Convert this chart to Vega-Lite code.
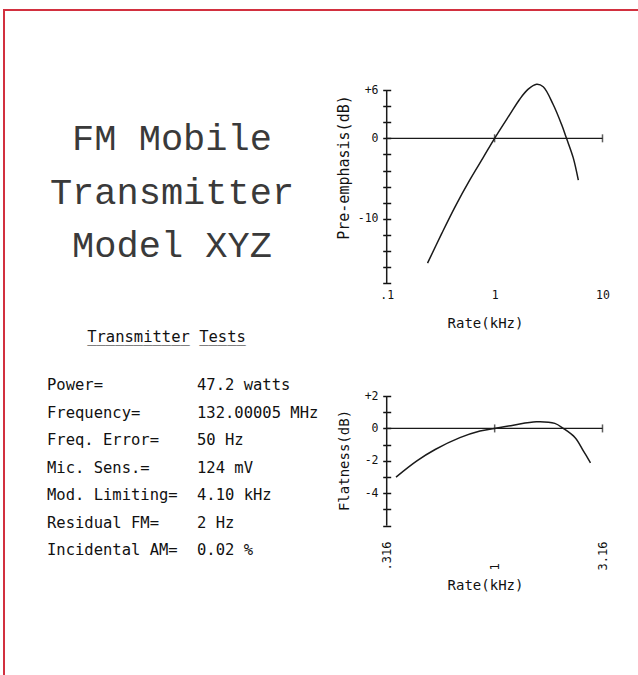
{
  "$schema": "https://vega.github.io/schema/vega-lite/v6.json",
  "width": 634,
  "height": 665,
  "autosize": {"type": "none"},
  "padding": {"left": 4, "top": 10, "right": 0, "bottom": 0},
  "background": "white",
  "config": {
    "view": {"stroke": "#d2303f", "strokeWidth": 2, "strokeDash": [634, 1299, 665]},
    "axis": {
      "domain": false, "grid": false,
      "labelFont": "DejaVu Sans Mono", "titleFont": "DejaVu Sans Mono",
      "labelColor": "#111", "titleColor": "#111", "tickColor": "#111",
      "labelOverlap": false, "labelFlush": false, "labelBound": false,
      "titleFontWeight": "normal"
    }
  },
  "datasets": {
    "preemphasis": [
      {"rate": 0.239, "db": -15.5}, {"rate": 0.324, "db": -11.8}, {"rate": 0.43, "db": -8.5},
      {"rate": 0.593, "db": -5.1}, {"rate": 0.783, "db": -2.4}, {"rate": 1.0, "db": 0},
      {"rate": 1.39, "db": 3.0}, {"rate": 1.71, "db": 4.86}, {"rate": 2.05, "db": 6.1},
      {"rate": 2.45, "db": 6.7}, {"rate": 2.82, "db": 6.4}, {"rate": 3.49, "db": 4.2},
      {"rate": 4.17, "db": 1.74}, {"rate": 4.64, "db": 0}, {"rate": 5.35, "db": -2.4},
      {"rate": 5.97, "db": -5.2}
    ],
    "flatness": [
      {"rate": 0.349, "db": -3.0}, {"rate": 0.436, "db": -2.0}, {"rate": 0.53, "db": -1.3},
      {"rate": 0.69, "db": -0.57}, {"rate": 0.855, "db": -0.16}, {"rate": 1.0, "db": 0},
      {"rate": 1.22, "db": 0.2}, {"rate": 1.56, "db": 0.41}, {"rate": 1.9, "db": 0.31},
      {"rate": 2.08, "db": 0}, {"rate": 2.36, "db": -0.57}, {"rate": 2.58, "db": -1.4},
      {"rate": 2.78, "db": -2.12}
    ],
    "title": [
      {"block": "title", "line": 1, "text": "FM Mobile"},
      {"block": "title", "line": 2, "text": "Transmitter"},
      {"block": "title", "line": 3, "text": "Model XYZ"}
    ],
    "header": [
      {"block": "header", "text": "Transmitter Tests"},
      {"block": "header", "text": "___________ _____"}
    ],
    "tests": [
      {"row": 1, "col": "name", "text": "Power="}, {"row": 1, "col": "reading", "text": "47.2 watts"},
      {"row": 2, "col": "name", "text": "Frequency="}, {"row": 2, "col": "reading", "text": "132.00005 MHz"},
      {"row": 3, "col": "name", "text": "Freq. Error="}, {"row": 3, "col": "reading", "text": "50 Hz"},
      {"row": 4, "col": "name", "text": "Mic. Sens.="}, {"row": 4, "col": "reading", "text": "124 mV"},
      {"row": 5, "col": "name", "text": "Mod. Limiting="}, {"row": 5, "col": "reading", "text": "4.10 kHz"},
      {"row": 6, "col": "name", "text": "Residual FM="}, {"row": 6, "col": "reading", "text": "2 Hz"},
      {"row": 7, "col": "name", "text": "Incidental AM="}, {"row": 7, "col": "reading", "text": "0.02 %"}
    ],
    "ticks1": [{"rate": 1}, {"rate": 10}],
    "ticks2": [{"rate": 1}, {"rate": 3.16}],
    "one": [{}]
  },
  "layer": [
    {
      "layer": [
        {
          "data": {"name": "preemphasis"},
          "mark": {"type": "line", "color": "#1a1a1a", "strokeWidth": 1.5, "interpolate": "catmull-rom"},
          "encoding": {
            "x": {
              "field": "rate", "type": "quantitative",
              "scale": {"type": "log", "domain": [0.1, 10], "range": [382.7, 598.5], "nice": false},
              "axis": {
                "orient": "bottom", "offset": -391.7, "values": [0.1, 1, 10],
                "ticks": false, "tickSize": 0, "labelPadding": 11.7,
                "labelBaseline": "middle", "labelAlign": "center", "labelFontSize": 11.5,
                "labelExpr": "datum.value < 0.5 ? '.1' : (datum.value < 5 ? '1' : '10')",
                "title": "Rate(kHz)", "titleFontSize": 14, "titleX": 481, "titleY": 39.7,
                "titleBaseline": "middle", "titleAlign": "center", "titleAngle": 0
              }
            },
            "y": {
              "field": "db", "type": "quantitative",
              "scale": {"domain": [-18, 6], "range": [273.3, 80], "nice": false, "zero": false},
              "axis": {
                "orient": "left", "offset": -386.7,
                "values": [-18, -16, -14, -12, -10, -8, -6, -4, -2, 0, 2, 4, 6],
                "tickSize": 8, "tickWidth": 1.5, "labelPadding": 4.7, "labelFontSize": 11.5,
                "labelBaseline": "middle", "labelAlign": "right",
                "labelExpr": "datum.value == 6 ? '+6' : (datum.value == 0 ? '0' : (datum.value == -10 ? '-10' : ''))",
                "title": "Pre-emphasis(dB)", "titleFontSize": 15, "titleX": -47.7, "titleY": 157,
                "titleAngle": 270, "titleBaseline": "middle", "titleAlign": "center"
              }
            }
          }
        },
        {
          "data": {"name": "one"},
          "mark": {"type": "rule", "color": "#1a1a1a", "strokeWidth": 1.5},
          "encoding": {
            "x": {"datum": 0.1, "type": "quantitative", "scale": {"type": "log", "domain": [0.1, 10], "range": [382.7, 598.5], "nice": false}},
            "y": {"datum": -18, "type": "quantitative", "scale": {"domain": [-18, 6], "range": [273.3, 80], "nice": false, "zero": false}},
            "y2": {"datum": 6}
          }
        },
        {
          "data": {"name": "one"},
          "mark": {"type": "rule", "color": "#1a1a1a", "strokeWidth": 1.2},
          "encoding": {
            "x": {"datum": 0.1, "type": "quantitative", "scale": {"type": "log", "domain": [0.1, 10], "range": [382.7, 598.5], "nice": false}},
            "x2": {"datum": 10},
            "y": {"datum": 0, "type": "quantitative", "scale": {"domain": [-18, 6], "range": [273.3, 80], "nice": false, "zero": false}}
          }
        },
        {
          "data": {"name": "ticks1"},
          "mark": {"type": "tick", "orient": "vertical", "size": 8, "thickness": 1.5, "color": "#1a1a1a"},
          "encoding": {
            "x": {"field": "rate", "type": "quantitative", "scale": {"type": "log", "domain": [0.1, 10], "range": [382.7, 598.5], "nice": false}},
            "y": {"datum": 0, "type": "quantitative", "scale": {"domain": [-18, 6], "range": [273.3, 80], "nice": false, "zero": false}}
          }
        }
      ]
    },
    {
      "layer": [
        {
          "data": {"name": "flatness"},
          "mark": {"type": "line", "color": "#1a1a1a", "strokeWidth": 1.5, "interpolate": "catmull-rom"},
          "encoding": {
            "x": {
              "field": "rate", "type": "quantitative",
              "scale": {"type": "log", "domain": [0.316, 3.16], "range": [382.7, 598.5], "nice": false},
              "axis": {
                "orient": "bottom", "offset": -149.3, "values": [0.316, 1, 3.16],
                "ticks": false, "tickSize": 0, "labelPadding": 44.3,
                "labelAngle": 270, "labelAlign": "left", "labelBaseline": "middle", "labelFontSize": 12,
                "labelExpr": "datum.value < 0.5 ? '.316' : (datum.value < 2 ? '1' : '3.16')",
                "title": "Rate(kHz)", "titleFontSize": 14, "titleX": 481, "titleY": 59.3,
                "titleBaseline": "middle", "titleAlign": "center", "titleAngle": 0
              }
            },
            "y": {
              "field": "db", "type": "quantitative",
              "scale": {"domain": [-6, 2], "range": [515.7, 386], "nice": false, "zero": false},
              "axis": {
                "orient": "left", "offset": -386.7,
                "values": [-6, -5, -4, -3, -2, -1, 0, 1, 2],
                "tickSize": 8, "tickWidth": 1.5, "labelPadding": 4.7, "labelFontSize": 11.5,
                "labelBaseline": "middle", "labelAlign": "right",
                "labelExpr": "datum.value == 2 ? '+2' : (datum.value == 0 ? '0' : (datum.value == -2 ? '-2' : (datum.value == -4 ? '-4' : '')))",
                "title": "Flatness(dB)", "titleFontSize": 14, "titleX": -46.7, "titleY": 450,
                "titleAngle": 270, "titleBaseline": "middle", "titleAlign": "center"
              }
            }
          }
        },
        {
          "data": {"name": "one"},
          "mark": {"type": "rule", "color": "#1a1a1a", "strokeWidth": 1.5},
          "encoding": {
            "x": {"datum": 0.316, "type": "quantitative", "scale": {"type": "log", "domain": [0.316, 3.16], "range": [382.7, 598.5], "nice": false}},
            "y": {"datum": -6, "type": "quantitative", "scale": {"domain": [-6, 2], "range": [515.7, 386], "nice": false, "zero": false}},
            "y2": {"datum": 2}
          }
        },
        {
          "data": {"name": "one"},
          "mark": {"type": "rule", "color": "#1a1a1a", "strokeWidth": 1.2},
          "encoding": {
            "x": {"datum": 0.316, "type": "quantitative", "scale": {"type": "log", "domain": [0.316, 3.16], "range": [382.7, 598.5], "nice": false}},
            "x2": {"datum": 3.16},
            "y": {"datum": 0, "type": "quantitative", "scale": {"domain": [-6, 2], "range": [515.7, 386], "nice": false, "zero": false}}
          }
        },
        {
          "data": {"name": "ticks2"},
          "mark": {"type": "tick", "orient": "vertical", "size": 8, "thickness": 1.5, "color": "#1a1a1a"},
          "encoding": {
            "x": {"field": "rate", "type": "quantitative", "scale": {"type": "log", "domain": [0.316, 3.16], "range": [382.7, 598.5], "nice": false}},
            "y": {"datum": 0, "type": "quantitative", "scale": {"domain": [-6, 2], "range": [515.7, 386], "nice": false, "zero": false}}
          }
        }
      ]
    },
    {
      "data": {"name": "title"},
      "mark": {"type": "text", "font": "Liberation Mono", "fontSize": 37, "align": "center", "baseline": "alphabetic", "color": "#3a3a3a"},
      "encoding": {
        "text": {"field": "text"},
        "x": {"field": "block", "type": "nominal", "scale": {"type": "point", "domain": ["title"], "range": [0, 336], "padding": 0.5}, "axis": null},
        "y": {"field": "line", "type": "ordinal", "scale": {"type": "point", "domain": [1, 2, 3], "range": [140, 247], "padding": 0}, "axis": null}
      }
    },
    {
      "data": {"name": "header"},
      "mark": {"type": "text", "font": "DejaVu Sans Mono", "fontSize": 15.5, "align": "center", "baseline": "alphabetic", "color": "#111"},
      "encoding": {
        "text": {"field": "text"},
        "x": {"field": "block", "type": "nominal", "scale": {"type": "point", "domain": ["header"], "range": [0, 325], "padding": 0.5}, "axis": null},
        "y": {"field": "block", "type": "nominal", "scale": {"type": "point", "domain": ["header"], "range": [0, 664], "padding": 0.5}, "axis": null}
      }
    },
    {
      "data": {"name": "tests"},
      "mark": {"type": "text", "font": "DejaVu Sans Mono", "fontSize": 15.5, "align": "left", "baseline": "middle", "color": "#111"},
      "encoding": {
        "text": {"field": "text"},
        "x": {"field": "col", "type": "nominal", "scale": {"type": "point", "domain": ["name", "reading"], "range": [43, 193], "padding": 0}, "axis": null},
        "y": {"field": "row", "type": "ordinal", "scale": {"type": "point", "domain": [1, 2, 3, 4, 5, 6, 7], "range": [375, 540], "padding": 0}, "axis": null}
      }
    }
  ],
  "resolve": {
    "scale": {"x": "independent", "y": "independent"},
    "axis": {"x": "independent", "y": "independent"}
  }
}
